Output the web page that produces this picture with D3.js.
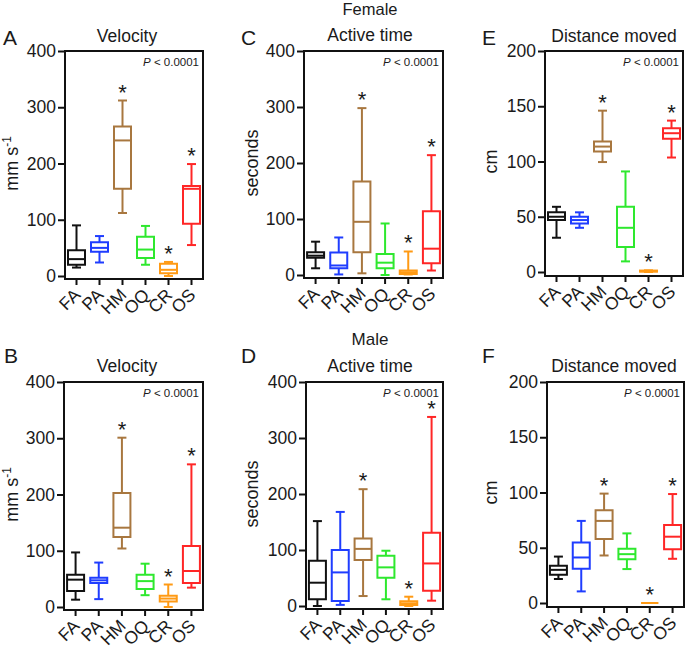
<!DOCTYPE html>
<html><head><meta charset="utf-8">
<script src="https://cdn.jsdelivr.net/npm/d3@7"></script>
<style>
body{margin:0;background:#fff}
text{font-family:"Liberation Sans",Arial,Helvetica,sans-serif;fill:#1a1a1a}
</style>
</head><body>
<svg id="chart" width="685" height="648"></svg>
<script>
// ---- data ----
const categories = ["FA", "PA", "HM", "OQ", "CR", "OS"];
const groupColors = ["#111111", "#1f3dff", "#a8773f", "#2ee82e", "#ff9a14", "#ff2626"];
const significant = [false, false, true, false, true, true];
const velocityTicks = [0, 100, 200, 300, 400];
const activeTicks = [0, 100, 200, 300, 400];
const distanceTicks = [0, 50, 100, 150, 200];
// each entry: [min, q1, median, q3, max]
const velocityFemale = [
  [15, 20, 30, 46, 90], [24, 43, 50, 60, 71], [112, 155, 241, 266, 312],
  [20, 32, 47, 70, 89], [0, 5, 11, 22, 25], [55, 93, 155, 160, 199]
];
const activeFemale = [
  [12, 31, 34.5, 40.5, 59.5], [1, 12, 17, 40, 67], [3, 40.5, 95, 167, 298],
  [0, 12, 22, 37.5, 92], [1, 2, 5, 8, 42], [8, 21, 47, 114, 214]
];
const distanceFemale = [
  [31, 47, 50, 54, 59], [40, 44, 47, 50, 54], [99.5, 109, 113.5, 118, 146],
  [9.6, 22.6, 40, 59, 91], [0, 0.3, 0.8, 1.3, 1.5], [103.6, 120.5, 125.6, 130, 137]
];
const velocityMale = [
  [13, 28.4, 48.6, 57.5, 97], [14, 42.7, 47.4, 52, 79], [104, 124.4, 141, 202.7, 301],
  [21, 32, 46, 57.5, 77], [0, 10, 15, 20, 40], [34.4, 42.7, 64, 108.4, 253.6]
];
const activeMale = [
  [0, 12, 41.6, 81, 151.6], [2, 9, 60, 100, 168], [17.8, 82, 102, 120.7, 208.6],
  [12, 50.5, 69, 89.7, 98.7], [0, 1.8, 4.8, 8.3, 16.6], [9.5, 27.3, 76, 130.8, 337.6]
];
const distanceMale = [
  [21.7, 25.6, 30, 33.7, 42], [10.5, 31, 41.2, 54.7, 74.3], [43, 58, 74.3, 84, 99],
  [30.7, 39.7, 44.2, 49, 63], [0, 0, 0, 0, 0], [40, 48.7, 60, 70.7, 98.6]
];

// ---- layout ----
const panels = [
  {letter: "A", title: "Velocity", ylab: "mm s", sup: "-1", ticks: velocityTicks, data: velocityFemale,
   x0: 65, x1: 203, yTop: 51, y0: 276, yBot: 279, titleX: 127, titleY: 42, letX: 3, letY: 45, ylabX: 18},
  {letter: "C", title: "Active time", ylab: "seconds", sup: "", ticks: activeTicks, data: activeFemale,
   x0: 304, x1: 443, yTop: 51, y0: 275, yBot: 278, titleX: 370, titleY: 41, letX: 241, letY: 45, ylabX: 258},
  {letter: "E", title: "Distance moved", ylab: "cm", sup: "", ticks: distanceTicks, data: distanceFemale,
   x0: 545, x1: 683, yTop: 51, y0: 272, yBot: 276, titleX: 614, titleY: 42, letX: 482, letY: 45, ylabX: 497},
  {letter: "B", title: "Velocity", ylab: "mm s", sup: "-1", ticks: velocityTicks, data: velocityMale,
   x0: 64, x1: 203, yTop: 382, y0: 607, yBot: 610, titleX: 127, titleY: 372, letX: 4, letY: 363, ylabX: 18},
  {letter: "D", title: "Active time", ylab: "seconds", sup: "", ticks: activeTicks, data: activeMale,
   x0: 306, x1: 443, yTop: 382, y0: 606, yBot: 609, titleX: 370, titleY: 372, letX: 241, letY: 363, ylabX: 258},
  {letter: "F", title: "Distance moved", ylab: "cm", sup: "", ticks: distanceTicks, data: distanceMale,
   x0: 547, x1: 684, yTop: 382, y0: 603, yBot: 607, titleX: 614, titleY: 372, letX: 482, letY: 363, ylabX: 497}
];

const svg = d3.select("#chart");

svg.append("text").attr("x", 370).attr("y", 15).attr("text-anchor", "middle")
  .attr("font-size", 16.5).text("Female");
svg.append("text").attr("x", 370).attr("y", 345).attr("text-anchor", "middle")
  .attr("font-size", 17).text("Male");

panels.forEach(p => {
  const g = svg.append("g");
  const yMax = p.ticks[p.ticks.length - 1];
  const y = d3.scaleLinear().domain([0, yMax]).range([p.y0, p.yTop]);
  const x = d3.scaleBand().domain(categories).range([p.x0, p.x1]).padding(0);

  // letter & title
  g.append("text").attr("x", p.letX).attr("y", p.letY).attr("font-size", 21).text(p.letter);
  g.append("text").attr("x", p.titleX).attr("y", p.titleY).attr("text-anchor", "middle")
    .attr("font-size", 17.5).text(p.title);

  // y label
  const yl = g.append("text")
    .attr("transform", `translate(${p.ylabX},${(p.yTop + p.y0) / 2}) rotate(-90)`)
    .attr("text-anchor", "middle").attr("font-size", 18).text(p.ylab);
  if (p.sup) yl.append("tspan").attr("dy", -7).attr("font-size", 12).text(p.sup);

  // y axis
  const ya = g.append("g").attr("transform", `translate(${p.x0},0)`)
    .call(d3.axisLeft(y).tickValues(p.ticks).tickSize(7).tickPadding(2));
  ya.select(".domain").remove();
  ya.selectAll("line").attr("stroke", "#111").attr("stroke-width", 2);
  ya.selectAll("text").attr("font-size", 17.5).attr("font-family", null).attr("fill", "#1a1a1a");

  // x axis
  const xa = g.append("g").attr("transform", `translate(0,${p.yBot})`)
    .call(d3.axisBottom(x).tickSize(6));
  xa.select(".domain").remove();
  xa.selectAll("line").attr("stroke", "#111").attr("stroke-width", 2);
  xa.selectAll("text").attr("font-size", 17.5).attr("font-family", null).attr("fill", "#1a1a1a")
    .attr("y", null).attr("dy", null).attr("text-anchor", "end")
    .attr("transform", "translate(5,17) rotate(-45)");

  // frame
  g.append("path")
    .attr("d", `M${p.x0},${p.yTop}H${p.x1}V${p.yBot}H${p.x0}Z`)
    .attr("fill", "none").attr("stroke", "#111").attr("stroke-width", 2);

  // P value
  const pt = g.append("text").attr("x", p.x1 - 4).attr("y", p.yTop + 15)
    .attr("text-anchor", "end").attr("font-size", 11.5);
  pt.append("tspan").attr("font-style", "italic").text("P");
  pt.append("tspan").text(" < 0.0001");

  // boxes
  const bw = 17, cap = 9;
  p.data.forEach((d, i) => {
    const cx = x(categories[i]) + x.bandwidth() / 2;
    const c = groupColors[i];
    const [mn, q1, md, q3, mx] = d;
    const bg = g.append("g").attr("stroke", c).attr("stroke-width", 2).attr("fill", "none");
    bg.append("line").attr("x1", cx).attr("x2", cx).attr("y1", y(mx)).attr("y2", y(q3));
    bg.append("line").attr("x1", cx).attr("x2", cx).attr("y1", y(q1)).attr("y2", y(mn));
    bg.append("line").attr("x1", cx - cap / 2).attr("x2", cx + cap / 2).attr("y1", y(mx)).attr("y2", y(mx));
    bg.append("line").attr("x1", cx - cap / 2).attr("x2", cx + cap / 2).attr("y1", y(mn)).attr("y2", y(mn));
    bg.append("path").attr("d", `M${cx - bw / 2},${y(q3)}H${cx + bw / 2}V${y(q1)}H${cx - bw / 2}Z`);
    bg.append("line").attr("x1", cx - bw / 2).attr("x2", cx + bw / 2).attr("y1", y(md)).attr("y2", y(md));
    if (significant[i]) {
      g.append("text").attr("x", cx).attr("y", y(mx) - 1).attr("text-anchor", "middle")
        .attr("font-size", 22).text("*");
    }
  });
});
</script>
</body></html>
